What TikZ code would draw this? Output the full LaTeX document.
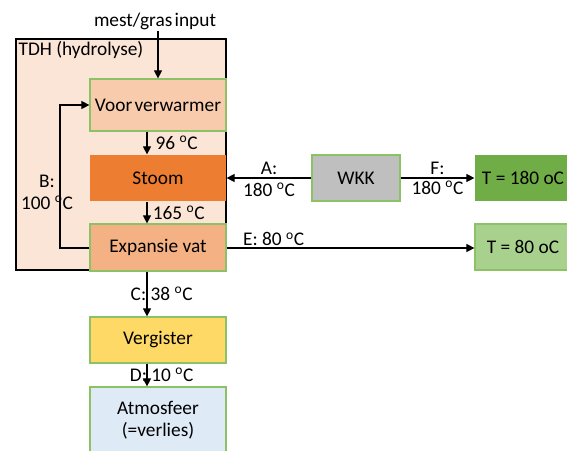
\documentclass[tikz,border=0pt]{standalone}
\usepackage{fontspec}
\setmainfont{Carlito}
\usetikzlibrary{arrows.meta,positioning}
\definecolor{tdhbg}{HTML}{FBE5D6}
\definecolor{voorfill}{HTML}{F8CBAD}
\definecolor{stoomfill}{HTML}{ED7D31}
\definecolor{expfill}{HTML}{F4B183}
\definecolor{vergfill}{HTML}{FFD966}
\definecolor{atmosfill}{HTML}{DEEBF7}
\definecolor{wkkfill}{HTML}{BFBFBF}
\definecolor{hotfill}{HTML}{70AD47}
\definecolor{warmfill}{HTML}{A9D18E}
\definecolor{boxline}{HTML}{8CC265}
\newcommand{\tightsp}{\spaceskip=0.12em plus 0.05em\relax}
\tikzset{
  procbox/.style={draw=boxline,line width=0.9pt,minimum width=102pt,minimum height=34.5pt,inner sep=0pt,align=center},
  outbox/.style={procbox,minimum width=72pt},
  tightfont/.style={font=\fontsize{14.5}{16.5}\selectfont\tightsp},
  flow/.style={-{Triangle[length=6pt,width=6pt]},line width=0.8pt},
  templabel/.style={inner sep=1pt,align=center}
}
\begin{document}
\begin{tikzpicture}[x=0.75pt,y=-0.75pt,font=\fontsize{14.5}{16.5}\selectfont]
\useasboundingbox (0,0) rectangle (567,450);
% hydrolyse unit
\draw[fill=tdhbg,line width=0.8pt] (16,39) rectangle (226,270);
\node[anchor=north west,inner sep=1pt] (tdh) at (17,40) {TDH (hydrolyse)};

\node[procbox,fill=voorfill,minimum height=39pt,tightfont] (voor) at (158,105) {Voor verwarmer};
\node[procbox,fill=stoomfill,draw=none] (stoom) at (158,178) {Stoom};
\node[procbox,fill=expfill,minimum height=35.25pt] (exp) at (158,247.5) {Expansie vat};
\node[procbox,fill=vergfill] (verg) at (158,340) {Vergister};
\node[procbox,fill=atmosfill,minimum height=49.5pt] (atmos) at (158,420) {Atmosfeer\\(=verlies)};
\node[procbox,fill=wkkfill,minimum width=66pt] (wkk) at (356,178) {WKK};
\node[outbox,fill=hotfill,draw=none] (hot) at (523,178) {T = 180 oC};
\node[outbox,fill=warmfill] (warm) at (523,247) {T = 80 oC};

% input
\node[inner sep=1pt,tightfont] (input) at (155,21) {mest/gras input};
\draw[flow] (input.south -| voor.north) -- (voor.north);

% internal flows
\draw[flow] (voor.south -| 147,0) -- (stoom.north -| 147,0)
  node[templabel,midway,right=5pt] (t96) {96 \textsuperscript{o}C};
\draw[flow] (stoom.south -| 147,0) -- (exp.north -| 147,0)
  node[templabel,midway,right=3pt] (t165) {165 \textsuperscript{o}C};
\coordinate (bback) at (60,248);
\draw[flow] (exp.west |- bback) -- (bback) -- (bback |- voor.west) -- (voor.west);
\node[templabel] (bl) at (47,192) {B:\\100 \textsuperscript{o}C};

% WKK
\draw[flow] (wkk.west) -- (stoom.east)
  node[templabel,midway,above=1pt] (al) {A:}
  node[templabel,midway,below=2pt] (at) {180 \textsuperscript{o}C};
\draw[flow] (wkk.east) -- (hot.west)
  node[templabel,midway,above=1pt] (fl) {F:}
  node[templabel,midway,below=1pt] (ft) {180 \textsuperscript{o}C};

% outgoing
\draw[flow] (exp.east |- 0,248) -- (warm.west |- 0,248)
  node[templabel,pos=0.19,above=0pt] (el) {E: 80 \textsuperscript{o}C};
\draw[flow] (exp.south -| 147,0) -- (verg.north -| 147,0)
  node[templabel,midway,xshift=11pt] (cl) {C: 38 \textsuperscript{o}C};
\draw[flow] (verg.south -| 147,0) -- (atmos.north -| 147,0)
  node[templabel,midway,xshift=11pt] (dl) {D: 10 \textsuperscript{o}C};
\end{tikzpicture}
\end{document}
